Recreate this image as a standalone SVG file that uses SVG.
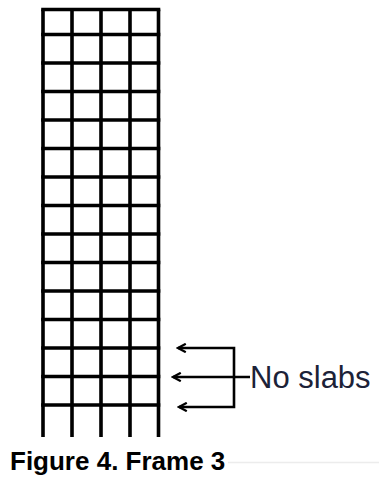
<svg xmlns="http://www.w3.org/2000/svg" width="379" height="485" viewBox="0 0 379 485">
<style>
.g{stroke:#000;stroke-width:3.6;fill:none}
.c{stroke:#000;stroke-width:2.6;fill:none}
.lbl{font-family:"Liberation Sans",Arial,sans-serif;font-size:31px;fill:#1c2238}
.cap{font-family:"Liberation Sans",Arial,sans-serif;font-size:26px;font-weight:bold;fill:#000}
</style>
<defs>
<marker id="ah" viewBox="0 0 10 10" refX="8.5" refY="5" markerWidth="4" markerHeight="4" orient="auto-start-reverse" markerUnits="strokeWidth">
<path d="M1,1 L8.5,5 L1,9" fill="none" stroke="#000" stroke-width="2.2"/>
</marker>
</defs>
<rect width="379" height="485" fill="#fff"/>
<g id="frame">
<path class="g" d="M43,9.5V437M72,9.5V437M101,9.5V437M130,9.5V437M158.5,9.5V437"/>
<path class="g" d="M41.2,9.5H160.3M41.2,34.5H160.3M41.2,63H160.3M41.2,91.5H160.3M41.2,120H160.3M41.2,148.5H160.3M41.2,177H160.3M41.2,205.5H160.3M41.2,234H160.3M41.2,262.5H160.3M41.2,291H160.3M41.2,319.5H160.3M41.2,348H160.3M41.2,376.5H160.3M41.2,405H160.3"/>
</g>
<g id="connectors">
<path class="c" d="M178,348H234V407H179" marker-start="url(#ah)" marker-end="url(#ah)"/>
<path class="c" d="M173,377H250" marker-start="url(#ah)"/>
</g>
<g id="label">
<text class="lbl" x="250" y="388">No slabs</text>
</g>
<g id="caption">
<line x1="228" y1="462.5" x2="379" y2="462.5" stroke="#ececec" stroke-width="1.5"/>
<text class="cap" x="10" y="470">Figure 4. Frame 3</text>
</g>
</svg>
